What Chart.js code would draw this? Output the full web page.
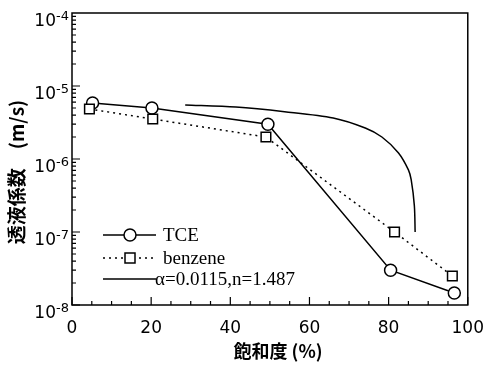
<!DOCTYPE html>
<html>
<head>
<meta charset="utf-8">
<script src="https://cdn.jsdelivr.net/npm/chart.js@4/dist/chart.umd.min.js"></script>
<style>
  html, body { margin: 0; padding: 0; background: #fff; }
  #wrap { width: 497px; height: 365px; }
</style>
</head>
<body>
<div id="wrap"><canvas id="myChart" width="497" height="365"></canvas></div>
<script>
// data
const tceSat = [5.2, 20.2, 49.5, 80.5, 96.6];
const tceK = [5.85e-6, 5.0e-6, 3.0e-6, 3.0e-8, 1.46e-8];
const benzeneSat = [4.4, 20.4, 49.0, 81.5, 96.1];
const benzeneK = [4.84e-6, 3.53e-6, 2.0e-6, 1.0e-7, 2.5e-8];
const modelSat = [28.6, 41.4, 53.7, 66.0, 74.1, 78.3, 82.5, 85.0, 85.7, 86.5, 86.7];
const modelK = [5.5e-6, 5.15e-6, 4.45e-6, 3.65e-6, 2.66e-6, 2.0e-6, 1.21e-6, 7.1e-7, 5.2e-7, 2.3e-7, 1.0e-7];
const xTicks = [0, 20, 40, 60, 80, 100];
const yExponents = [-8, -7, -6, -5, -4];
const legendLabels = ["TCE", "benzene", "\u03b1=0.0115,n=1.487"];

const toPoints = (xs, ys) => xs.map((x, i) => ({ x: x, y: ys[i] }));

const sansFont = "'DejaVu Sans', sans-serif";
const serifFont = "'Liberation Serif', 'Times New Roman', serif";
const cjkFont = "'Noto Sans CJK JP', sans-serif";

// frame, inside ticks, y tick labels with exponents, axis titles and legend
const decorPlugin = {
  id: "decor",
  afterDraw(chart) {
    const ctx = chart.ctx;
    const a = chart.chartArea;
    const xs = chart.scales.x;
    const ys = chart.scales.y;
    ctx.save();
    ctx.strokeStyle = "#000";
    ctx.lineWidth = 1.5;
    ctx.strokeRect(a.left, a.top, a.right - a.left, a.bottom - a.top);

    // x ticks
    ctx.lineWidth = 1.2;
    ctx.beginPath();
    for (let v = 0; v <= 100; v += 5) {
      const px = xs.getPixelForValue(v);
      const len = v % 20 === 0 ? 8 : 4;
      ctx.moveTo(px, a.bottom);
      ctx.lineTo(px, a.bottom - len);
    }
    // y ticks
    for (let e = -8; e < -4; e++) {
      for (let m = 1; m <= 9; m++) {
        const py = ys.getPixelForValue(m * Math.pow(10, e));
        const len = m === 1 ? 8 : 4;
        ctx.moveTo(a.left, py);
        ctx.lineTo(a.left + len, py);
      }
    }
    ctx.stroke();

    // y tick labels 10^n
    ctx.fillStyle = "#000";
    ctx.textBaseline = "alphabetic";
    yExponents.forEach((e) => {
      const py = ys.getPixelForValue(Math.pow(10, e));
      ctx.font = "17px " + sansFont;
      ctx.textAlign = "right";
      ctx.fillText("10", 56, py + 13);
      ctx.font = "13px " + sansFont;
      ctx.textAlign = "left";
      ctx.fillText(String(e), 56, py + 7);
    });

    // axis titles
    ctx.font = "bold 18px " + cjkFont;
    ctx.textAlign = "center";
    ctx.textBaseline = "middle";
    ctx.fillText("\u98fd\u548c\u5ea6 (%)", 278, 351);
    ctx.save();
    ctx.translate(17, 172);
    ctx.rotate(-Math.PI / 2);
    ctx.font = "bold 19px " + cjkFont;
    ctx.fillText("\u900f\u6db2\u4fc2\u6570\u3000(m/s)", 0, 0);
    ctx.restore();

    // legend
    const rows = [235, 258, 279];
    const x0 = 103, x1 = 156, xm = 130;
    ctx.lineWidth = 1.5;
    ctx.font = "19px " + serifFont;
    ctx.textAlign = "left";
    ctx.textBaseline = "middle";
    // TCE
    ctx.setLineDash([]);
    ctx.beginPath();
    ctx.moveTo(x0, rows[0]); ctx.lineTo(x1, rows[0]);
    ctx.stroke();
    ctx.beginPath();
    ctx.arc(xm, rows[0], 6, 0, Math.PI * 2);
    ctx.fillStyle = "#fff"; ctx.fill(); ctx.stroke();
    ctx.fillStyle = "#000";
    ctx.fillText(legendLabels[0], 163, rows[0] + 1);
    // benzene
    ctx.setLineDash([2, 4]);
    ctx.beginPath();
    ctx.moveTo(x0, rows[1]); ctx.lineTo(x1, rows[1]);
    ctx.stroke();
    ctx.setLineDash([]);
    ctx.fillStyle = "#fff";
    ctx.fillRect(xm - 5, rows[1] - 5, 10, 10);
    ctx.strokeRect(xm - 5, rows[1] - 5, 10, 10);
    ctx.fillStyle = "#000";
    ctx.fillText(legendLabels[1], 163, rows[1] + 1);
    // model
    ctx.beginPath();
    ctx.moveTo(x0, rows[2]); ctx.lineTo(x1, rows[2]);
    ctx.stroke();
    ctx.fillText(legendLabels[2], 155, rows[2] + 1);
    ctx.restore();
  }
};

const ctx = document.getElementById("myChart").getContext("2d");
const myChart = new Chart(ctx, {
  type: "scatter",
  data: {
    datasets: [
      {
        label: legendLabels[2],
        data: toPoints(modelSat, modelK),
        showLine: true,
        borderColor: "#000",
        borderWidth: 1.5,
        pointRadius: 0,
        tension: 0.3,
      },
      {
        label: legendLabels[1],
        data: toPoints(benzeneSat, benzeneK),
        showLine: true,
        borderColor: "#000",
        borderWidth: 1.5,
        borderDash: [2, 4],
        pointStyle: "rect",
        pointRadius: 6.8,
        pointBorderWidth: 1.5,
        pointBackgroundColor: "#fff",
        pointBorderColor: "#000",
      },
      {
        label: legendLabels[0],
        data: toPoints(tceSat, tceK),
        showLine: true,
        borderColor: "#000",
        borderWidth: 1.5,
        pointStyle: "circle",
        pointRadius: 6,
        pointBorderWidth: 1.5,
        pointBackgroundColor: "#fff",
        pointBorderColor: "#000",
      },
    ],
  },
  options: {
    responsive: false,
    animation: false,
    layout: { padding: { top: 13, right: 19, left: 0, bottom: 0 } },
    plugins: {
      legend: { display: false },
      tooltip: { enabled: false },
    },
    scales: {
      x: {
        type: "linear",
        min: 0,
        max: 100,
        afterBuildTicks: (scale) => {
          scale.ticks = xTicks.map((v) => ({ value: v }));
        },
        afterFit: (scale) => { scale.height = 60; },
        grid: { display: false, drawTicks: false },
        border: { display: false },
        ticks: {
          color: "#000",
          font: { family: sansFont, size: 17 },
          padding: 13,
          maxRotation: 0,
        },
      },
      y: {
        type: "logarithmic",
        min: 1e-8,
        max: 1e-4,
        afterFit: (scale) => { scale.width = 72; },
        grid: { display: false, drawTicks: false },
        border: { display: false },
        ticks: { display: false },
      },
    },
  },
  plugins: [decorPlugin],
});
</script>
</body>
</html>
